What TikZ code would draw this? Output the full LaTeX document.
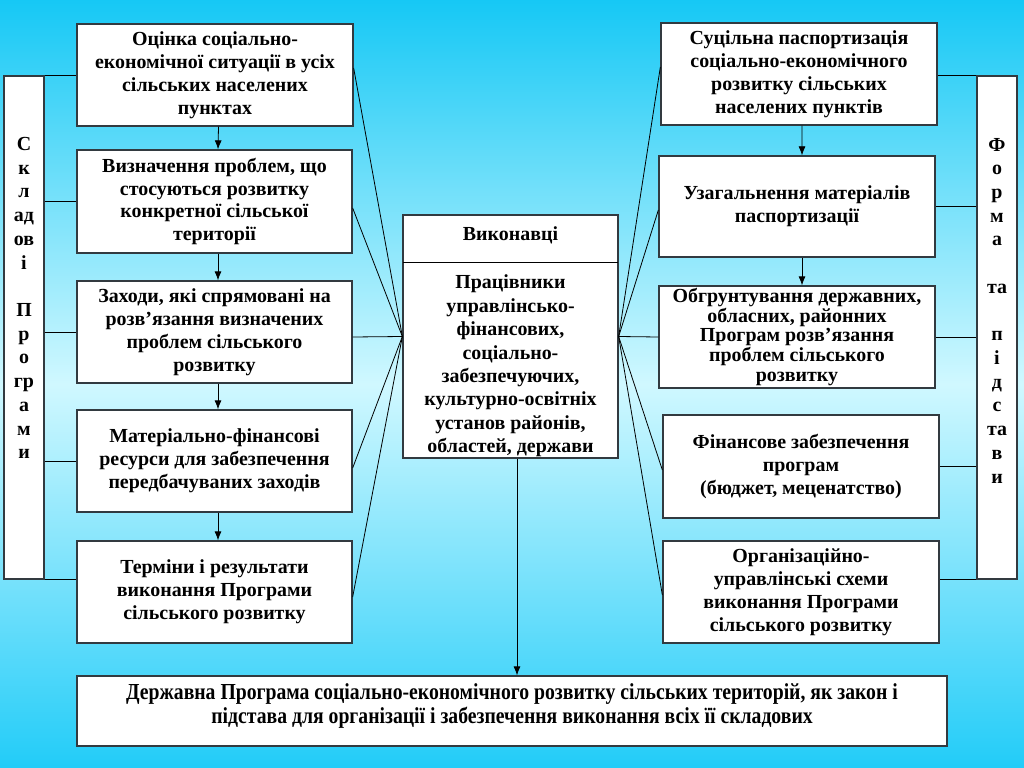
\documentclass[tikz,border=0pt]{standalone}
\usepackage{fontspec}
\setmainfont{Liberation Serif}
\newfontfamily\condfont[FakeStretch=0.86]{Liberation Serif}
\usetikzlibrary{arrows.meta,calc}
\definecolor{bgtop}{RGB}{22,200,245}
\definecolor{bgmid}{RGB}{208,248,255}
\definecolor{bgbot}{RGB}{34,204,248}
\definecolor{boxline}{RGB}{50,58,64}
\begin{document}
\begin{tikzpicture}[x=1bp,y=-1bp,
  box/.style={draw=boxline, line width=1.3bp, fill=white, inner sep=0pt, align=center,
    font=\fontsize{20}{23}\selectfont\bfseries},
  bartext/.style={inner sep=0pt, align=center, font=\fontsize{20}{23.8}\selectfont\bfseries},
  link/.style={draw=black, line width=0.8bp},
  arr/.style={draw=black, line width=0.8bp, -{Latex[length=9bp,width=7bp]}}]
\shade[top color=bgtop, bottom color=bgbot, middle color=bgmid] (0,0) rectangle (1024,768);
\useasboundingbox (0,0) rectangle (1024,768);

% side bars
\node[box, minimum width=40bp, minimum height=503bp] (lb) at (24,327.5) {};
\node[box, minimum width=40bp, minimum height=503bp] (rb) at (997,327.5) {};
\node[bartext] (lbt) at (24,298) {С\\к\\л\\ад\\ов\\і\\~\\П\\р\\о\\гр\\а\\м\\и};
\node[bartext] (rbt) at (997,310.5) {Ф\\о\\р\\м\\а\\~\\та\\~\\п\\і\\д\\с\\та\\в\\и};

% left column
\node[box, minimum width=276bp, minimum height=102bp] (L1) at (215,75) {Оцінка соціально-\\економічної ситуації в усіх\\сільських населених\\пунктах};
\node[box, minimum width=275bp, minimum height=103bp] (L2) at (214.5,201.5) {Визначення проблем, що\\стосуються розвитку\\конкретної сільської\\території};
\node[box, minimum width=275bp, minimum height=102bp] (L3) at (214.5,332) {Заходи, які спрямовані на\\розв’язання визначених\\проблем сільського\\розвитку};
\node[box, minimum width=275bp, minimum height=102bp] (L4) at (214.5,461) {Матеріально-фінансові\\ресурси для забезпечення\\передбачуваних заходів};
\node[box, minimum width=275bp, minimum height=102bp] (L5) at (214.5,592) {Терміни і результати\\виконання Програми\\сільського розвитку};

% right column
\node[box, minimum width=276bp, minimum height=102bp] (R1) at (799,74) {Суцільна паспортизація\\соціально-економічного\\розвитку сільських\\населених пунктів};
\node[box, minimum width=276bp, minimum height=101bp] (R2) at (797,206.5) {Узагальнення матеріалів\\паспортизації};
\node[box, minimum width=276bp, minimum height=102bp, font=\fontsize{20}{19.6}\selectfont\bfseries] (R3) at (797,337) {Обгрунтування державних,\\обласних, районних\\Програм розв’язання\\проблем сільського\\розвитку};
\node[box, minimum width=276bp, minimum height=103bp] (R4) at (801,466.5) {Фінансове забезпечення\\програм\\(бюджет, меценатство)};
\node[box, minimum width=276bp, minimum height=102bp] (R5) at (801,592) {Організаційно-\\управлінські схеми\\виконання Програми\\сільського розвитку};

% centre
\node[box, minimum width=215bp, minimum height=243bp] (C) at (510.5,336.5) {};
\coordinate (dl) at (403,262);
\coordinate (dr) at (618,262);
\draw[link] (dl) -- (dr);
\node[bartext, font=\fontsize{20}{23}\selectfont\bfseries] (Ct) at (510.5,235) {Виконавці};
\node[bartext, font=\fontsize{20}{23.5}\selectfont\bfseries] (Cb) at (510.5,366) {Працівники\\управлінсько-\\фінансових,\\соціально-\\забезпечуючих,\\культурно-освітніх\\установ районів,\\областей, держави};

% bottom
\node[box, minimum width=870bp, minimum height=70bp] (B) at (512,711) {};
\node[bartext, font=\fontsize{23}{24}\selectfont\condfont\bfseries] (Bt) at (512,706) {Державна Програма соціально-економічного розвитку сільських територій, як закон і\\підстава для організації і забезпечення виконання всіх її складових};

% arrows in columns
\foreach \a/\b in {L1/L2,L2/L3,L3/L4,L4/L5}{
  \draw[arr] ([xshift=3.5bp]\a.south) -- ([xshift=3.5bp]\b.north);
}
\draw[arr] ([xshift=3bp]R1.south) -- ([xshift=5bp]R2.north);
\draw[arr] ([xshift=5bp]R2.south) -- ([xshift=5bp]R3.north);
\coordinate (cs) at ([xshift=6.5bp]C.south);
\draw[arr] (cs) -- (cs |- B.north);

% links to centre
\coordinate (cw) at (C.west);
\coordinate (ce) at (C.east);
\draw[link] ([yshift=7bp]L1.east) -- (cw);
\draw[link] ([yshift=-6.5bp]L2.east) -- (cw);
\draw[link] ([yshift=-5bp]L3.east) -- (cw);
\draw[link] ([yshift=-7bp]L4.east) -- (cw);
\draw[link] ([yshift=-5bp]L5.east) -- (cw);
\draw[link] ([yshift=7bp]R1.west) -- (ce);
\draw[link] ([yshift=-3.5bp]R2.west) -- (ce);
\draw[link] (R3.west) -- (ce);
\draw[link] ([yshift=-3.5bp]R4.west) -- (ce);
\draw[link] ([yshift=-3bp]R5.west) -- (ce);

% links to side bars
\draw[link] (lb.north east) -- (L1.west |- lb.north);
\draw[link] (lb.east |- L2.west) -- (L2.west);
\draw[link] (lb.east |- L3.west) -- (L3.west);
\draw[link] (lb.east |- L4.west) -- (L4.west);
\draw[link] (lb.south east) -- (L5.west |- lb.south);
\draw[link] (rb.north west) -- (R1.east |- rb.north);
\draw[link] (rb.west |- R2.east) -- (R2.east);
\draw[link] (rb.west |- R3.east) -- (R3.east);
\draw[link] (rb.west |- R4.east) -- (R4.east);
\draw[link] (rb.south west) -- (R5.east |- rb.south);
\end{tikzpicture}
\end{document}
